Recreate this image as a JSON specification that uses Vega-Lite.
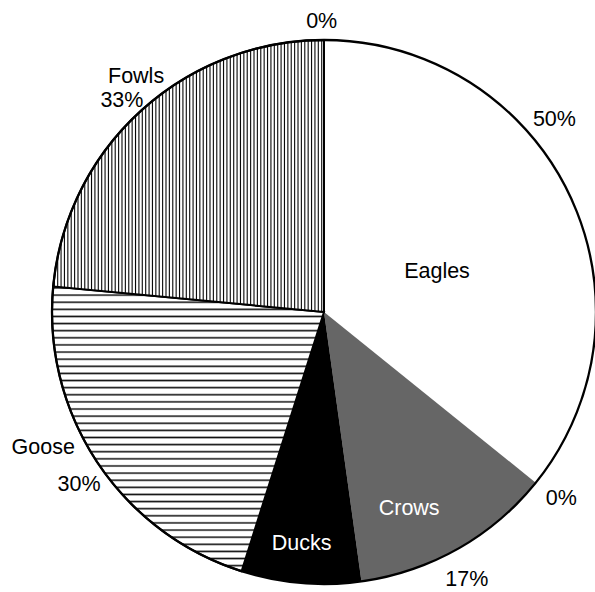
{
  "$schema": "https://vega.github.io/schema/vega-lite/v6.json",
  "autosize": {"type": "none"},
  "padding": {"left": 0, "top": 0, "right": -53, "bottom": -32},
  "width": 648,
  "height": 624,
  "background": "#ffffff",
  "config": {"view": {"stroke": null}},
  "data": {
    "values": [
      {"k": 0, "cat": "Other A", "value": 0, "pct": "0%"},
      {"k": 1, "cat": "Eagles", "value": 35.8, "pct": "50%"},
      {"k": 2, "cat": "Other B", "value": 0, "pct": "0%"},
      {"k": 3, "cat": "Crows", "value": 12.0, "pct": "17%"},
      {"k": 4, "cat": "Ducks", "value": 7.1, "pct": ""},
      {"k": 5, "cat": "Goose", "value": 21.6, "pct": "30%"},
      {"k": 6, "cat": "Fowls", "value": 23.5, "pct": "33%"}
    ]
  },
  "layer": [
    {
      "encoding": {
        "theta": {"field": "value", "type": "quantitative", "stack": true},
        "order": {"field": "k", "type": "quantitative"},
        "detail": {"field": "cat", "type": "nominal"}
      },
      "layer": [
        {
          "mark": {"type": "arc", "outerRadius": 272, "strokeWidth": 2},
          "encoding": {
            "fill": {
              "condition": [
                {"test": "datum.cat === 'Fowls'", "value": {"gradient": "linear", "x1": 0, "y1": 0, "x2": 1, "y2": 0, "stops": [
{"offset":0,"color":"#fff"},{"offset":0.004,"color":"#000"},{"offset":0.008,"color":"#fff"},
{"offset":0.0125,"color":"#fff"},{"offset":0.0165,"color":"#000"},{"offset":0.0205,"color":"#fff"},
{"offset":0.025,"color":"#fff"},{"offset":0.029,"color":"#000"},{"offset":0.033,"color":"#fff"},
{"offset":0.0375,"color":"#fff"},{"offset":0.0415,"color":"#000"},{"offset":0.0455,"color":"#fff"},
{"offset":0.05,"color":"#fff"},{"offset":0.054,"color":"#000"},{"offset":0.058,"color":"#fff"},
{"offset":0.0625,"color":"#fff"},{"offset":0.0665,"color":"#000"},{"offset":0.0705,"color":"#fff"},
{"offset":0.075,"color":"#fff"},{"offset":0.079,"color":"#000"},{"offset":0.083,"color":"#fff"},
{"offset":0.0875,"color":"#fff"},{"offset":0.0915,"color":"#000"},{"offset":0.0955,"color":"#fff"},
{"offset":0.1,"color":"#fff"},{"offset":0.104,"color":"#000"},{"offset":0.108,"color":"#fff"},
{"offset":0.1125,"color":"#fff"},{"offset":0.1165,"color":"#000"},{"offset":0.1205,"color":"#fff"},
{"offset":0.125,"color":"#fff"},{"offset":0.129,"color":"#000"},{"offset":0.133,"color":"#fff"},
{"offset":0.1375,"color":"#fff"},{"offset":0.1415,"color":"#000"},{"offset":0.1455,"color":"#fff"},
{"offset":0.15,"color":"#fff"},{"offset":0.154,"color":"#000"},{"offset":0.158,"color":"#fff"},
{"offset":0.1625,"color":"#fff"},{"offset":0.1665,"color":"#000"},{"offset":0.1705,"color":"#fff"},
{"offset":0.175,"color":"#fff"},{"offset":0.179,"color":"#000"},{"offset":0.183,"color":"#fff"},
{"offset":0.1875,"color":"#fff"},{"offset":0.1915,"color":"#000"},{"offset":0.1955,"color":"#fff"},
{"offset":0.2,"color":"#fff"},{"offset":0.204,"color":"#000"},{"offset":0.208,"color":"#fff"},
{"offset":0.2125,"color":"#fff"},{"offset":0.2165,"color":"#000"},{"offset":0.2205,"color":"#fff"},
{"offset":0.225,"color":"#fff"},{"offset":0.229,"color":"#000"},{"offset":0.233,"color":"#fff"},
{"offset":0.2375,"color":"#fff"},{"offset":0.2415,"color":"#000"},{"offset":0.2455,"color":"#fff"},
{"offset":0.25,"color":"#fff"},{"offset":0.254,"color":"#000"},{"offset":0.258,"color":"#fff"},
{"offset":0.2625,"color":"#fff"},{"offset":0.2665,"color":"#000"},{"offset":0.2705,"color":"#fff"},
{"offset":0.275,"color":"#fff"},{"offset":0.279,"color":"#000"},{"offset":0.283,"color":"#fff"},
{"offset":0.2875,"color":"#fff"},{"offset":0.2915,"color":"#000"},{"offset":0.2955,"color":"#fff"},
{"offset":0.3,"color":"#fff"},{"offset":0.304,"color":"#000"},{"offset":0.308,"color":"#fff"},
{"offset":0.3125,"color":"#fff"},{"offset":0.3165,"color":"#000"},{"offset":0.3205,"color":"#fff"},
{"offset":0.325,"color":"#fff"},{"offset":0.329,"color":"#000"},{"offset":0.333,"color":"#fff"},
{"offset":0.3375,"color":"#fff"},{"offset":0.3415,"color":"#000"},{"offset":0.3455,"color":"#fff"},
{"offset":0.35,"color":"#fff"},{"offset":0.354,"color":"#000"},{"offset":0.358,"color":"#fff"},
{"offset":0.3625,"color":"#fff"},{"offset":0.3665,"color":"#000"},{"offset":0.3705,"color":"#fff"},
{"offset":0.375,"color":"#fff"},{"offset":0.379,"color":"#000"},{"offset":0.383,"color":"#fff"},
{"offset":0.3875,"color":"#fff"},{"offset":0.3915,"color":"#000"},{"offset":0.3955,"color":"#fff"},
{"offset":0.4,"color":"#fff"},{"offset":0.404,"color":"#000"},{"offset":0.408,"color":"#fff"},
{"offset":0.4125,"color":"#fff"},{"offset":0.4165,"color":"#000"},{"offset":0.4205,"color":"#fff"},
{"offset":0.425,"color":"#fff"},{"offset":0.429,"color":"#000"},{"offset":0.433,"color":"#fff"},
{"offset":0.4375,"color":"#fff"},{"offset":0.4415,"color":"#000"},{"offset":0.4455,"color":"#fff"},
{"offset":0.45,"color":"#fff"},{"offset":0.454,"color":"#000"},{"offset":0.458,"color":"#fff"},
{"offset":0.4625,"color":"#fff"},{"offset":0.4665,"color":"#000"},{"offset":0.4705,"color":"#fff"},
{"offset":0.475,"color":"#fff"},{"offset":0.479,"color":"#000"},{"offset":0.483,"color":"#fff"},
{"offset":0.4875,"color":"#fff"},{"offset":0.4915,"color":"#000"},{"offset":0.4955,"color":"#fff"},
{"offset":0.5,"color":"#fff"},{"offset":0.504,"color":"#000"},{"offset":0.508,"color":"#fff"},
{"offset":0.5125,"color":"#fff"},{"offset":0.5165,"color":"#000"},{"offset":0.5205,"color":"#fff"},
{"offset":0.525,"color":"#fff"},{"offset":0.529,"color":"#000"},{"offset":0.533,"color":"#fff"},
{"offset":0.5375,"color":"#fff"},{"offset":0.5415,"color":"#000"},{"offset":0.5455,"color":"#fff"},
{"offset":0.55,"color":"#fff"},{"offset":0.554,"color":"#000"},{"offset":0.558,"color":"#fff"},
{"offset":0.5625,"color":"#fff"},{"offset":0.5665,"color":"#000"},{"offset":0.5705,"color":"#fff"},
{"offset":0.575,"color":"#fff"},{"offset":0.579,"color":"#000"},{"offset":0.583,"color":"#fff"},
{"offset":0.5875,"color":"#fff"},{"offset":0.5915,"color":"#000"},{"offset":0.5955,"color":"#fff"},
{"offset":0.6,"color":"#fff"},{"offset":0.604,"color":"#000"},{"offset":0.608,"color":"#fff"},
{"offset":0.6125,"color":"#fff"},{"offset":0.6165,"color":"#000"},{"offset":0.6205,"color":"#fff"},
{"offset":0.625,"color":"#fff"},{"offset":0.629,"color":"#000"},{"offset":0.633,"color":"#fff"},
{"offset":0.6375,"color":"#fff"},{"offset":0.6415,"color":"#000"},{"offset":0.6455,"color":"#fff"},
{"offset":0.65,"color":"#fff"},{"offset":0.654,"color":"#000"},{"offset":0.658,"color":"#fff"},
{"offset":0.6625,"color":"#fff"},{"offset":0.6665,"color":"#000"},{"offset":0.6705,"color":"#fff"},
{"offset":0.675,"color":"#fff"},{"offset":0.679,"color":"#000"},{"offset":0.683,"color":"#fff"},
{"offset":0.6875,"color":"#fff"},{"offset":0.6915,"color":"#000"},{"offset":0.6955,"color":"#fff"},
{"offset":0.7,"color":"#fff"},{"offset":0.704,"color":"#000"},{"offset":0.708,"color":"#fff"},
{"offset":0.7125,"color":"#fff"},{"offset":0.7165,"color":"#000"},{"offset":0.7205,"color":"#fff"},
{"offset":0.725,"color":"#fff"},{"offset":0.729,"color":"#000"},{"offset":0.733,"color":"#fff"},
{"offset":0.7375,"color":"#fff"},{"offset":0.7415,"color":"#000"},{"offset":0.7455,"color":"#fff"},
{"offset":0.75,"color":"#fff"},{"offset":0.754,"color":"#000"},{"offset":0.758,"color":"#fff"},
{"offset":0.7625,"color":"#fff"},{"offset":0.7665,"color":"#000"},{"offset":0.7705,"color":"#fff"},
{"offset":0.775,"color":"#fff"},{"offset":0.779,"color":"#000"},{"offset":0.783,"color":"#fff"},
{"offset":0.7875,"color":"#fff"},{"offset":0.7915,"color":"#000"},{"offset":0.7955,"color":"#fff"},
{"offset":0.8,"color":"#fff"},{"offset":0.804,"color":"#000"},{"offset":0.808,"color":"#fff"},
{"offset":0.8125,"color":"#fff"},{"offset":0.8165,"color":"#000"},{"offset":0.8205,"color":"#fff"},
{"offset":0.825,"color":"#fff"},{"offset":0.829,"color":"#000"},{"offset":0.833,"color":"#fff"},
{"offset":0.8375,"color":"#fff"},{"offset":0.8415,"color":"#000"},{"offset":0.8455,"color":"#fff"},
{"offset":0.85,"color":"#fff"},{"offset":0.854,"color":"#000"},{"offset":0.858,"color":"#fff"},
{"offset":0.8625,"color":"#fff"},{"offset":0.8665,"color":"#000"},{"offset":0.8705,"color":"#fff"},
{"offset":0.875,"color":"#fff"},{"offset":0.879,"color":"#000"},{"offset":0.883,"color":"#fff"},
{"offset":0.8875,"color":"#fff"},{"offset":0.8915,"color":"#000"},{"offset":0.8955,"color":"#fff"},
{"offset":0.9,"color":"#fff"},{"offset":0.904,"color":"#000"},{"offset":0.908,"color":"#fff"},
{"offset":0.9125,"color":"#fff"},{"offset":0.9165,"color":"#000"},{"offset":0.9205,"color":"#fff"},
{"offset":0.925,"color":"#fff"},{"offset":0.929,"color":"#000"},{"offset":0.933,"color":"#fff"},
{"offset":0.9375,"color":"#fff"},{"offset":0.9415,"color":"#000"},{"offset":0.9455,"color":"#fff"},
{"offset":0.95,"color":"#fff"},{"offset":0.954,"color":"#000"},{"offset":0.958,"color":"#fff"},
{"offset":0.9625,"color":"#fff"},{"offset":0.9665,"color":"#000"},{"offset":0.9705,"color":"#fff"},
{"offset":0.975,"color":"#fff"},{"offset":0.979,"color":"#000"},{"offset":0.983,"color":"#fff"},
{"offset":0.9875,"color":"#fff"},{"offset":0.9915,"color":"#000"},{"offset":0.9955,"color":"#fff"},
{"offset":1,"color":"#fff"}
                ]}},
                {"test": "datum.cat === 'Goose'", "value": {"gradient": "linear", "x1": 0, "y1": 0, "x2": 0, "y2": 1, "stops": [
{"offset":0,"color":"#fff"},{"offset":0.0055,"color":"#111"},{"offset":0.011,"color":"#fff"},
{"offset":0.025,"color":"#fff"},{"offset":0.0305,"color":"#111"},{"offset":0.036,"color":"#fff"},
{"offset":0.05,"color":"#fff"},{"offset":0.0555,"color":"#111"},{"offset":0.061,"color":"#fff"},
{"offset":0.075,"color":"#fff"},{"offset":0.0805,"color":"#111"},{"offset":0.086,"color":"#fff"},
{"offset":0.1,"color":"#fff"},{"offset":0.1055,"color":"#111"},{"offset":0.111,"color":"#fff"},
{"offset":0.125,"color":"#fff"},{"offset":0.1305,"color":"#111"},{"offset":0.136,"color":"#fff"},
{"offset":0.15,"color":"#fff"},{"offset":0.1555,"color":"#111"},{"offset":0.161,"color":"#fff"},
{"offset":0.175,"color":"#fff"},{"offset":0.1805,"color":"#111"},{"offset":0.186,"color":"#fff"},
{"offset":0.2,"color":"#fff"},{"offset":0.2055,"color":"#111"},{"offset":0.211,"color":"#fff"},
{"offset":0.225,"color":"#fff"},{"offset":0.2305,"color":"#111"},{"offset":0.236,"color":"#fff"},
{"offset":0.25,"color":"#fff"},{"offset":0.2555,"color":"#111"},{"offset":0.261,"color":"#fff"},
{"offset":0.275,"color":"#fff"},{"offset":0.2805,"color":"#111"},{"offset":0.286,"color":"#fff"},
{"offset":0.3,"color":"#fff"},{"offset":0.3055,"color":"#111"},{"offset":0.311,"color":"#fff"},
{"offset":0.325,"color":"#fff"},{"offset":0.3305,"color":"#111"},{"offset":0.336,"color":"#fff"},
{"offset":0.35,"color":"#fff"},{"offset":0.3555,"color":"#111"},{"offset":0.361,"color":"#fff"},
{"offset":0.375,"color":"#fff"},{"offset":0.3805,"color":"#111"},{"offset":0.386,"color":"#fff"},
{"offset":0.4,"color":"#fff"},{"offset":0.4055,"color":"#111"},{"offset":0.411,"color":"#fff"},
{"offset":0.425,"color":"#fff"},{"offset":0.4305,"color":"#111"},{"offset":0.436,"color":"#fff"},
{"offset":0.45,"color":"#fff"},{"offset":0.4555,"color":"#111"},{"offset":0.461,"color":"#fff"},
{"offset":0.475,"color":"#fff"},{"offset":0.4805,"color":"#111"},{"offset":0.486,"color":"#fff"},
{"offset":0.5,"color":"#fff"},{"offset":0.5055,"color":"#111"},{"offset":0.511,"color":"#fff"},
{"offset":0.525,"color":"#fff"},{"offset":0.5305,"color":"#111"},{"offset":0.536,"color":"#fff"},
{"offset":0.55,"color":"#fff"},{"offset":0.5555,"color":"#111"},{"offset":0.561,"color":"#fff"},
{"offset":0.575,"color":"#fff"},{"offset":0.5805,"color":"#111"},{"offset":0.586,"color":"#fff"},
{"offset":0.6,"color":"#fff"},{"offset":0.6055,"color":"#111"},{"offset":0.611,"color":"#fff"},
{"offset":0.625,"color":"#fff"},{"offset":0.6305,"color":"#111"},{"offset":0.636,"color":"#fff"},
{"offset":0.65,"color":"#fff"},{"offset":0.6555,"color":"#111"},{"offset":0.661,"color":"#fff"},
{"offset":0.675,"color":"#fff"},{"offset":0.6805,"color":"#111"},{"offset":0.686,"color":"#fff"},
{"offset":0.7,"color":"#fff"},{"offset":0.7055,"color":"#111"},{"offset":0.711,"color":"#fff"},
{"offset":0.725,"color":"#fff"},{"offset":0.7305,"color":"#111"},{"offset":0.736,"color":"#fff"},
{"offset":0.75,"color":"#fff"},{"offset":0.7555,"color":"#111"},{"offset":0.761,"color":"#fff"},
{"offset":0.775,"color":"#fff"},{"offset":0.7805,"color":"#111"},{"offset":0.786,"color":"#fff"},
{"offset":0.8,"color":"#fff"},{"offset":0.8055,"color":"#111"},{"offset":0.811,"color":"#fff"},
{"offset":0.825,"color":"#fff"},{"offset":0.8305,"color":"#111"},{"offset":0.836,"color":"#fff"},
{"offset":0.85,"color":"#fff"},{"offset":0.8555,"color":"#111"},{"offset":0.861,"color":"#fff"},
{"offset":0.875,"color":"#fff"},{"offset":0.8805,"color":"#111"},{"offset":0.886,"color":"#fff"},
{"offset":0.9,"color":"#fff"},{"offset":0.9055,"color":"#111"},{"offset":0.911,"color":"#fff"},
{"offset":0.925,"color":"#fff"},{"offset":0.9305,"color":"#111"},{"offset":0.936,"color":"#fff"},
{"offset":0.95,"color":"#fff"},{"offset":0.9555,"color":"#111"},{"offset":0.961,"color":"#fff"},
{"offset":0.975,"color":"#fff"},{"offset":0.9805,"color":"#111"},{"offset":0.986,"color":"#fff"},
{"offset":1,"color":"#fff"}
                ]}}
              ],
              "field": "cat",
              "type": "nominal",
              "scale": {
                "domain": ["Other A", "Eagles", "Other B", "Crows", "Ducks", "Goose", "Fowls"],
                "range": ["#ffffff", "#ffffff", "#ffffff", "#666666", "#000000", "#ffffff", "#ffffff"]
              },
              "legend": null
            },
            "stroke": {
              "condition": {"test": "datum.cat === 'Fowls' || datum.cat === 'Goose'", "value": "#000000"},
              "value": null
            }
          }
        },
        {
          "mark": {"type": "text", "radius": 290, "thetaOffset": -0.008, "font": "Liberation Sans", "fontSize": 21.5, "color": "#000"},
          "encoding": {"text": {"condition": {"test": "datum.cat === 'Other A'", "field": "pct", "type": "nominal"}, "value": ""}}
        },
        {
          "mark": {"type": "text", "radius": 300, "thetaOffset": -0.249, "font": "Liberation Sans", "fontSize": 21.5, "color": "#000"},
          "encoding": {"text": {"condition": {"test": "datum.cat === 'Eagles'", "field": "pct", "type": "nominal"}, "value": ""}}
        },
        {
          "mark": {"type": "text", "radius": 302, "thetaOffset": -0.012, "font": "Liberation Sans", "fontSize": 21.5, "color": "#000"},
          "encoding": {"text": {"condition": {"test": "datum.cat === 'Other B'", "field": "pct", "type": "nominal"}, "value": ""}}
        },
        {
          "mark": {"type": "text", "radius": 304, "thetaOffset": 0.026, "font": "Liberation Sans", "fontSize": 21.5, "color": "#000"},
          "encoding": {"text": {"condition": {"test": "datum.cat === 'Crows'", "field": "pct", "type": "nominal"}, "value": ""}}
        },
        {
          "mark": {"type": "text", "radius": 300, "thetaOffset": -0.031, "font": "Liberation Sans", "fontSize": 21.5, "color": "#000"},
          "encoding": {"text": {"condition": {"test": "datum.cat === 'Goose'", "field": "pct", "type": "nominal"}, "value": ""}}
        },
        {
          "mark": {"type": "text", "radius": 292, "thetaOffset": -0.026, "font": "Liberation Sans", "fontSize": 21.5, "color": "#000"},
          "encoding": {"text": {"condition": {"test": "datum.cat === 'Fowls'", "field": "pct", "type": "nominal"}, "value": ""}}
        },
        {
          "mark": {"type": "text", "radius": 120, "thetaOffset": 0.103, "font": "Liberation Sans", "fontSize": 21.5, "color": "#000"},
          "encoding": {"text": {"condition": {"test": "datum.cat === 'Eagles'", "field": "cat", "type": "nominal"}, "value": ""}}
        },
        {
          "mark": {"type": "text", "radius": 215, "thetaOffset": 0.108, "font": "Liberation Sans", "fontSize": 21.5, "color": "#ffffff"},
          "encoding": {"text": {"condition": {"test": "datum.cat === 'Crows'", "field": "cat", "type": "nominal"}, "value": ""}}
        },
        {
          "mark": {"type": "text", "radius": 233, "thetaOffset": 0.011, "font": "Liberation Sans", "fontSize": 21.5, "color": "#ffffff"},
          "encoding": {"text": {"condition": {"test": "datum.cat === 'Ducks'", "field": "cat", "type": "nominal"}, "value": ""}}
        },
        {
          "mark": {"type": "text", "radius": 312, "thetaOffset": 0.133, "font": "Liberation Sans", "fontSize": 21.5, "color": "#000"},
          "encoding": {"text": {"condition": {"test": "datum.cat === 'Goose'", "field": "cat", "type": "nominal"}, "value": ""}}
        },
        {
          "mark": {"type": "text", "radius": 301, "thetaOffset": 0.064, "font": "Liberation Sans", "fontSize": 21.5, "color": "#000"},
          "encoding": {"text": {"condition": {"test": "datum.cat === 'Fowls'", "field": "cat", "type": "nominal"}, "value": ""}}
        }
      ]
    },
    {
      "transform": [{"aggregate": [{"op": "sum", "field": "value", "as": "value"}]}],
      "mark": {"type": "arc", "outerRadius": 272, "filled": false, "stroke": "#000000", "strokeWidth": 2.3},
      "encoding": {
        "theta": {"field": "value", "type": "quantitative", "stack": true}
      }
    }
  ]
}
